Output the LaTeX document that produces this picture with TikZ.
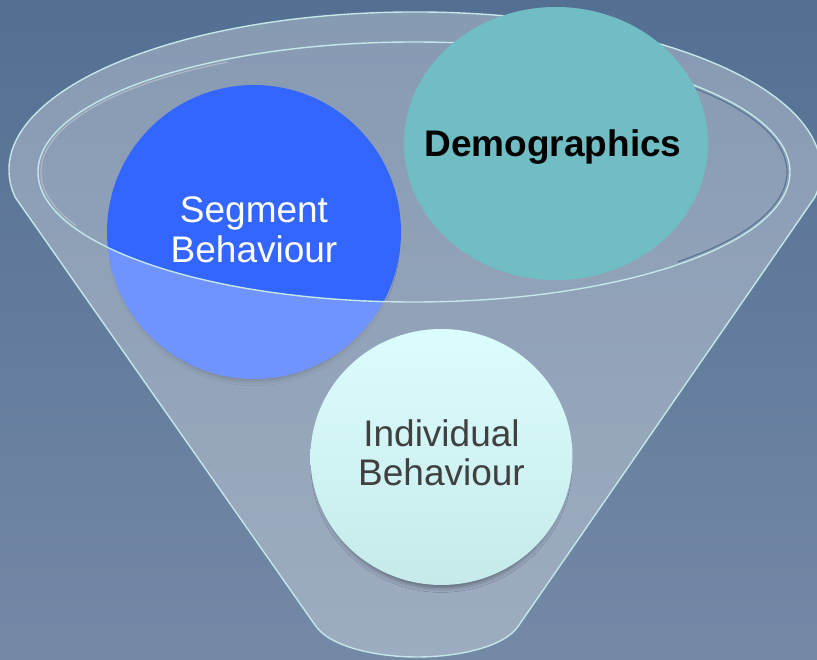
\documentclass[tikz,border=0pt]{standalone}
\usepackage{fontspec}
\setmainfont{Liberation Sans}
\usetikzlibrary{shapes.geometric,shadows.blur}

\definecolor{bgtop}{HTML}{536F92}
\definecolor{bgbot}{HTML}{7489A6}
\definecolor{rimline}{HTML}{C4E7E7}
\definecolor{rimgray}{HTML}{AEB6C6}
\definecolor{rimdark}{HTML}{5A7394}
\definecolor{segblue}{HTML}{3366FF}
\definecolor{demoteal}{HTML}{70BEC4}
\definecolor{indtop}{HTML}{DCFDFD}
\definecolor{indbot}{HTML}{C6EAEA}
\definecolor{indtext}{HTML}{404040}

\begin{document}
\begin{tikzpicture}[x=1pt,y=1pt,
  glass/.style={fill=white, fill opacity=0.3},
  rim/.style={draw=rimline, line width=1.4pt},
  bubble/.style={ellipse, draw=none, inner sep=0pt, outer sep=0pt},
  softshadow/.style={blur shadow={shadow xshift=0pt, shadow yshift=-8pt,
      shadow scale=0.96, shadow blur radius=5pt, shadow opacity=40}},
  caption/.style={font=\fontsize{37}{40}\selectfont, align=center, inner sep=0pt}
]
\useasboundingbox (0,0) rectangle (817,-660);
\shade[top color=bgtop, bottom color=bgbot] (0,0) rectangle (817,-660);

% centre of the funnel mouth (inner rim)
\coordinate (rimC) at (414,-172);

% inside of the mouth, behind the bubbles
\fill[glass] (rimC) ellipse[x radius=376, y radius=130];

% bubble sitting inside the funnel
\node[bubble, fill=segblue, minimum width=294pt, minimum height=294pt, softshadow]
  (seg) at (254,-232) {};

% front body of the funnel, seen through
\fill[glass, even odd rule]
  (15,-197) arc[start angle=189.85, end angle=-9.85, x radius=406, y radius=158]
  -- (519,-625) .. controls (505,-648) and (455,-657) .. (417,-657)
  .. controls (380,-657) and (330,-648) .. (315,-625) -- cycle
  (rimC) ellipse[x radius=376, y radius=130];

% funnel outline
\draw[rim, line join=round]
  (15,-197) arc[start angle=189.85, end angle=-9.85, x radius=406, y radius=158]
  -- (519,-625) .. controls (505,-648) and (455,-657) .. (417,-657)
  .. controls (380,-657) and (330,-648) .. (315,-625) -- cycle;

% rim of the mouth with its bevel
\draw[rimgray, line width=1.3pt]
  ([shift={(120:373 and 127)}]rimC) arc[start angle=120, end angle=205, x radius=373, y radius=127];
\draw[rimdark, line width=1.1pt]
  ([shift={(-45:373 and 127)}]rimC) arc[start angle=-45, end angle=55, x radius=373, y radius=127];
\draw[rim] (rimC) ellipse[x radius=376, y radius=130];

% bubbles in front
\node[bubble, fill=demoteal, minimum width=304pt, minimum height=273pt]
  (demo) at (556,-143.5) {};
\node[bubble, top color=indtop, bottom color=indbot,
  minimum width=262pt, minimum height=256pt, softshadow]
  (ind) at (441.5,-457) {};

% captions
\node[caption, text=white] (segtext) at (254,-229.5) {Segment\\Behaviour};
\node[caption, anchor=base, font=\fontsize{37}{40}\selectfont\bfseries, text=black]
  (demotext) at (553,-157) {Demographics};
\node[caption, text=indtext, font=\fontsize{37}{39}\selectfont]
  (indtext) at (441.5,-452.7) {Individual\\Behaviour};
\end{tikzpicture}
\end{document}
